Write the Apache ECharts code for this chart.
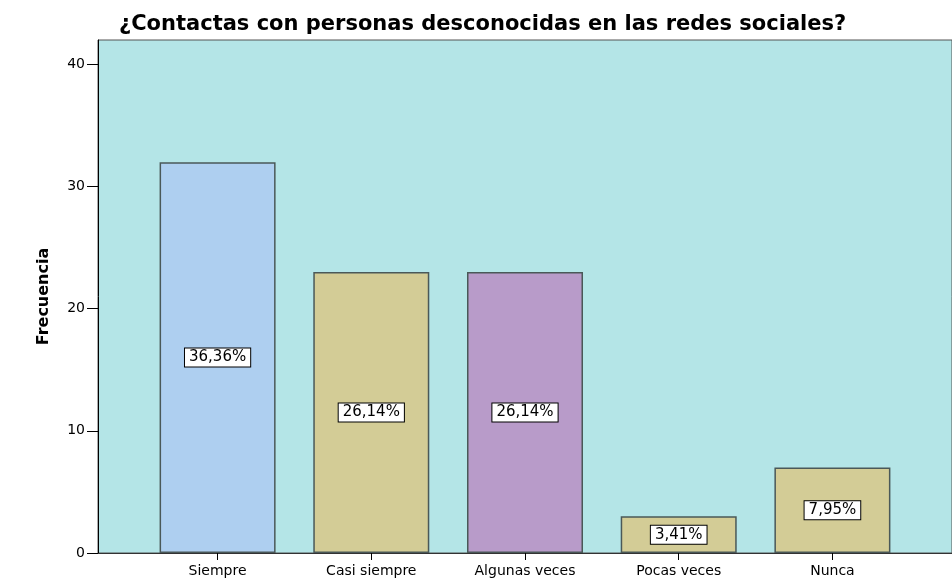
<!DOCTYPE html>
<html><head><meta charset="utf-8">
<script src="https://cdn.jsdelivr.net/npm/echarts@6/dist/echarts.min.js"></script>
<style>html,body{margin:0;padding:0;background:#fff}#c{width:952px;height:584px}</style>
</head><body><div id="c"></div>
<script>
const categories = ['Siempre', 'Casi siempre', 'Algunas veces', 'Pocas veces', 'Nunca'];
const frecuencia = [32, 23, 23, 3, 7];
const porcentajes = ['36,36%', '26,14%', '26,14%', '3,41%', '7,95%'];
const barColors = ['#aecff0', '#d3cc96', '#b89bc9', '#d3cc96', '#d3cc96'];
const yTicks = [0, 10, 20, 30, 40];

const FONT = 'DejaVu Sans, Liberation Sans, Arial, sans-serif';
const chart = echarts.init(document.getElementById('c'), null, {renderer: 'canvas'});
const positions = categories.map((_, i) => i);
chart.setOption({
  animation: false,
  backgroundColor: '#ffffff',
  title: {
    text: '¿Contactas con personas desconocidas en las redes sociales?',
    left: 119, top: 14, padding: 0,
    textStyle: {fontFamily: FONT, fontSize: 21, fontWeight: 'bold', color: '#000'}
  },
  grid: {
    left: 98, right: -3, top: 40, bottom: 31,
    show: true, backgroundColor: '#b4e5e7', borderColor: '#555', borderWidth: 1,
    containLabel: false
  },
  xAxis: {
    type: 'value', min: -0.778, max: 4.778,
    splitLine: {show: false},
    axisLine: {show: true, onZero: false, lineStyle: {color: '#333', width: 1}},
    axisTick: {show: true, length: 7, lineStyle: {color: '#000'}, customValues: positions},
    axisLabel: {
      customValues: positions,
      formatter: v => categories[Math.round(v)] || '',
      fontFamily: FONT, fontSize: 14, color: '#000', margin: 11
    }
  },
  yAxis: {
    type: 'value', min: 0, max: 42,
    name: 'Frecuencia', nameLocation: 'middle', nameGap: 46, nameRotate: 90,
    nameTextStyle: {fontFamily: FONT, fontSize: 16, fontWeight: 'bold', color: '#000'},
    splitLine: {show: false},
    axisLine: {show: true, onZero: false, lineStyle: {color: '#000', width: 1}},
    axisTick: {show: true, length: 11, lineStyle: {color: '#000'}, customValues: yTicks},
    axisLabel: {
      customValues: yTicks, showMaxLabel: true,
      fontFamily: FONT, fontSize: 14, color: '#000', margin: 13
    }
  },
  series: [{
    type: 'bar',
    barWidth: 116,
    data: frecuencia.map((v, i) => ({
      value: [positions[i], v],
      itemStyle: {color: barColors[i], borderColor: '#4a5858', borderWidth: 1.5}
    })),
    label: {
      show: true, position: 'inside',
      formatter: p => porcentajes[p.dataIndex],
      fontFamily: FONT, fontSize: 15, color: '#000',
      backgroundColor: '#fff', borderColor: '#000', borderWidth: 1,
      padding: [2, 4, 1, 4]
    }
  }]
});
</script></body></html>
